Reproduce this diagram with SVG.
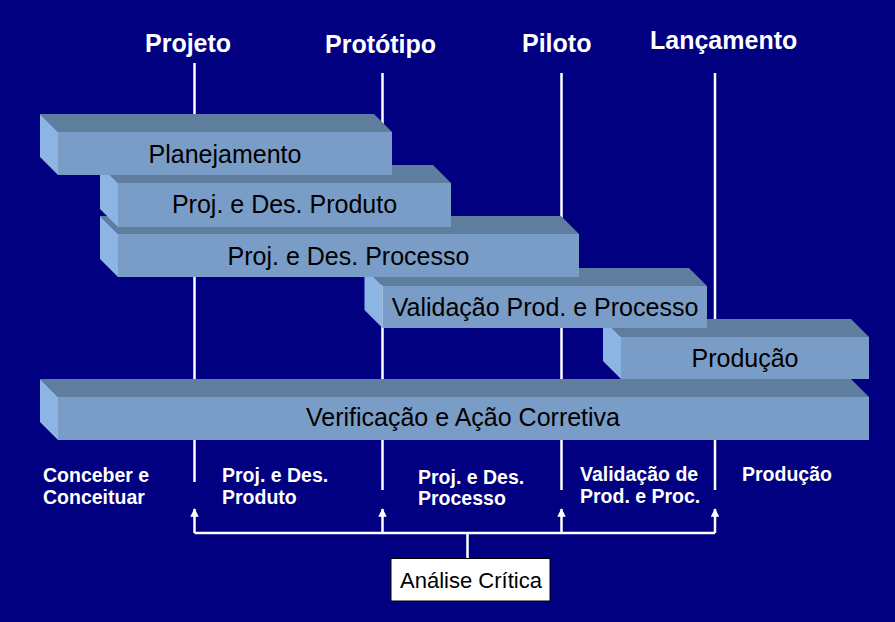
<svg xmlns="http://www.w3.org/2000/svg" width="895" height="622" viewBox="0 0 895 622">
<style>
.top{fill:#5f7d9c}
.front{fill:#7a9dc8}
.side{fill:#8db5e3}
.bt{font-family:"Liberation Sans",Arial,sans-serif;font-size:25px;fill:#000;text-anchor:middle}
.hd{font-family:"Liberation Sans",Arial,sans-serif;font-size:25px;font-weight:bold;fill:#fff}
.lb{font-family:"Liberation Sans",Arial,sans-serif;font-size:19.5px;font-weight:bold;fill:#fff}
.ln{stroke:#fff;stroke-width:2.5;fill:none}
</style>
<defs>
<marker id="ah" viewBox="0 0 10 10" refX="9" refY="5" markerWidth="3.4" markerHeight="3.4" orient="auto" markerUnits="strokeWidth">
<path d="M0,0 L10,5 L0,10 z" fill="#fff"/>
</marker>
</defs>
<rect width="895" height="622" fill="#000080"/>
<g id="headers">
<text class="hd" x="145" y="52">Projeto</text>
<text class="hd" x="325" y="53">Protótipo</text>
<text class="hd" x="522" y="52">Piloto</text>
<text class="hd" x="650" y="49">Lançamento</text>
</g>
<g id="connectors">
<line class="ln" x1="194.5" y1="63" x2="194.5" y2="482"/>
<line class="ln" x1="382.5" y1="73" x2="382.5" y2="490"/>
<line class="ln" x1="561.5" y1="73" x2="561.5" y2="490"/>
<line class="ln" x1="715" y1="73" x2="715" y2="490"/>
<polyline class="ln" points="194.5,533 715,533"/>
<line class="ln" x1="467.5" y1="533" x2="467.5" y2="558"/>
<line class="ln" x1="194.5" y1="533" x2="194.5" y2="509" marker-end="url(#ah)"/>
<line class="ln" x1="382.5" y1="533" x2="382.5" y2="509" marker-end="url(#ah)"/>
<line class="ln" x1="561.5" y1="533" x2="561.5" y2="509" marker-end="url(#ah)"/>
<line class="ln" x1="715" y1="533" x2="715" y2="509" marker-end="url(#ah)"/>
</g>
<g id="bar-verificacao">
<polygon class="top" points="40,379 851,379 869,397 58,397"/>
<polygon class="side" points="40,379 58,397 58,440 40,422"/>
<rect class="front" x="58" y="397" width="811" height="43"/>
<text class="bt" x="463" y="426">Verificação e Ação Corretiva</text>
</g>
<g id="bar-producao">
<polygon class="top" points="603,319 851,319 869,337 621,337"/>
<polygon class="side" points="603,319 621,337 621,379 603,361"/>
<rect class="front" x="621" y="337" width="248" height="42"/>
<text class="bt" x="745" y="367">Produção</text>
</g>
<g id="bar-validacao">
<polygon class="top" points="364.5,268 689,268 707,286 382.5,286"/>
<polygon class="side" points="364.5,268 382.5,286 382.5,328 364.5,310"/>
<rect class="front" x="382.5" y="286" width="324.5" height="42"/>
<text class="bt" x="545" y="316">Validação Prod. e Processo</text>
</g>
<g id="bar-processo">
<polygon class="top" points="100,216 561,216 579,234 118,234"/>
<polygon class="side" points="100,216 118,234 118,277 100,259"/>
<rect class="front" x="118" y="234" width="461" height="43"/>
<text class="bt" x="348.5" y="265">Proj. e Des. Processo</text>
</g>
<g id="bar-produto">
<polygon class="top" points="100,165 433,165 451,183 118,183"/>
<polygon class="side" points="100,165 118,183 118,227 100,209"/>
<rect class="front" x="118" y="183" width="333" height="44"/>
<text class="bt" x="284.5" y="213">Proj. e Des. Produto</text>
</g>
<g id="bar-planejamento">
<polygon class="top" points="40,114 374,114 392,132 58,132"/>
<polygon class="side" points="40,114 58,132 58,175 40,157"/>
<rect class="front" x="58" y="132" width="334" height="43"/>
<text class="bt" x="225" y="163">Planejamento</text>
</g>
<g id="phase-labels">
<text class="lb" x="43" y="482">Conceber e<tspan x="43" y="503.5">Conceituar</tspan></text>
<text class="lb" x="222" y="482">Proj. e Des.<tspan x="222" y="503.5">Produto</tspan></text>
<text class="lb" x="418" y="483.5">Proj. e Des.<tspan x="418" y="505">Processo</tspan></text>
<text class="lb" x="580" y="481">Validação de<tspan x="580" y="503">Prod. e Proc.</tspan></text>
<text class="lb" x="742" y="481">Produção</text>
</g>
<g id="analise-critica">
<rect x="391" y="558.5" width="159" height="42.5" fill="#fff" stroke="#000" stroke-width="1"/>
<text x="471" y="588" font-family="'Liberation Sans',Arial,sans-serif" font-size="22" text-anchor="middle" fill="#000">Análise Crítica</text>
</g>
</svg>
